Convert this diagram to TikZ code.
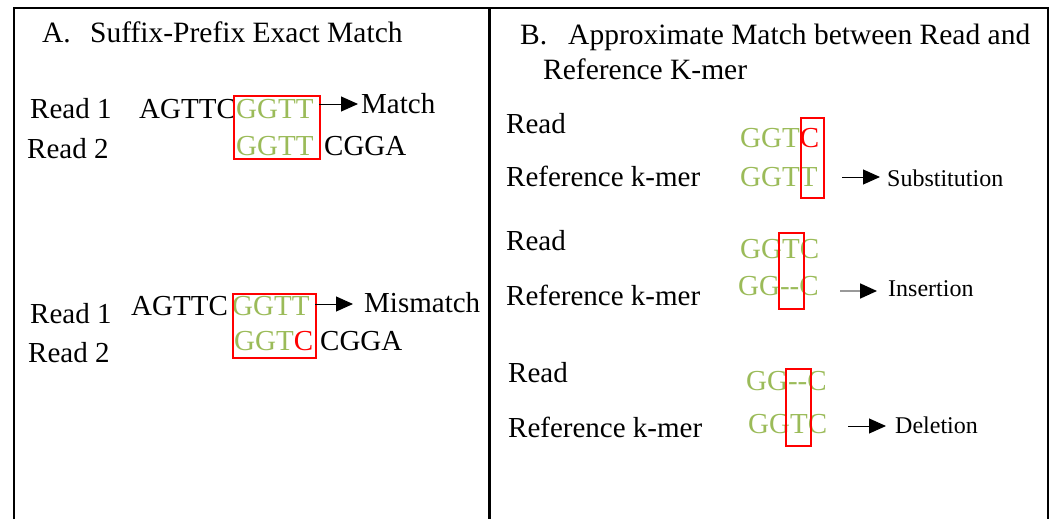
\documentclass[tikz,border=0pt]{standalone}
\usepackage{fontspec}
\setmainfont{Liberation Serif}
\usetikzlibrary{arrows.meta}
\definecolor{seqgreen}{HTML}{9BBB59}
\definecolor{seqred}{HTML}{FF0000}
\tikzset{
  txt/.style={anchor=base west, inner sep=0pt, font=\fontsize{29}{34}\selectfont},
  ttl/.style={anchor=base west, inner sep=0pt, font=\fontsize{29.5}{35}\selectfont},
  small/.style={anchor=base west, inner sep=0pt, font=\fontsize{24}{28}\selectfont},
  redbox/.style={draw=seqred, line width=2pt, anchor=north west, inner sep=0pt},
  arr/.style={-{Triangle[length=17pt,width=15pt,color=black]}, line width=1pt},
  frame/.style={line width=2pt},
}
\newcommand{\gr}[1]{\textcolor{seqgreen}{#1}}
\newcommand{\rd}[1]{\textcolor{seqred}{#1}}
\begin{document}
\begin{tikzpicture}[x=1pt,y=1pt]
\useasboundingbox (0,0) rectangle (1056,-519);
% frame
\coordinate (fbl) at (14,-519);
\coordinate (ftl) at (14,-8);
\coordinate (ftr) at (1048,-8);
\coordinate (fbr) at (1048,-519);
\coordinate (dtop) at (489,-8);
\coordinate (dbot) at (489,-519);
\draw[frame] (fbl) -- (ftl) -- (ftr) -- (fbr);
\draw[line width=3pt] (dtop) -- (dbot);

% Panel A title
\node[ttl] (atA) at (42,-43) {A.};
\node[ttl] (atitle) at (90,-43) {Suffix-Prefix Exact Match};

% exact match
\node[txt] (a1r1) at (30,-118) {Read 1};
\node[txt] (a1r2) at (27,-158) {Read 2};
\node[txt] (a1s1) at (139,-118) {AGTTC};
\node[txt] (a1g1) at (236,-118) {\gr{GGTT}};
\node[txt] (a1g2) at (236,-155) {\gr{GGTT}};
\node[txt] (a1s2) at (324,-155) {CGGA};
\node[txt] (a1m) at (361,-113) {Match};
\node[redbox, minimum width=86pt, minimum height=63pt] (a1box) at (233,-95) {};
\coordinate (a1a) at (319,-104);
\coordinate (a1b) at (358,-104);
\draw[arr] (a1a) -- (a1b);

% mismatch
\node[txt] (a2r1) at (30,-323) {Read 1};
\node[txt] (a2r2) at (28,-362) {Read 2};
\node[txt] (a2s1) at (131,-315) {AGTTC};
\node[txt] (a2g1) at (232,-315) {\gr{GGTT}};
\node[txt] (a2g2) at (234,-350) {\gr{GGT}\rd{C}};
\node[txt] (a2s2) at (320,-350) {CGGA};
\node[txt] (a2m) at (364,-312) {Mismatch};
\node[redbox, minimum width=83pt, minimum height=64pt] (a2box) at (232,-293) {};
\coordinate (a2a) at (315,-304);
\coordinate (a2b) at (353,-304);
\draw[arr] (a2a) -- (a2b);

% Panel B title
\node[ttl] (btB) at (520,-45) {B.};
\node[ttl] (btitle1) at (568,-45) {Approximate Match between Read and};
\node[ttl] (btitle2) at (543,-79) {Reference K-mer};

% substitution
\node[txt] (b1r) at (506,-133) {Read};
\node[txt] (b1k) at (506,-186) {Reference k-mer};
\node[txt] (b1s1) at (740,-147) {\gr{GGT}\rd{C}};
\node[txt] (b1s2) at (740,-186) {\gr{GGTT}};
\node[redbox, minimum width=23pt, minimum height=80pt] (b1box) at (800,-117) {};
\node[small] (b1l) at (887,-186) {Substitution};
\coordinate (b1a) at (842,-177);
\coordinate (b1b) at (880,-177);
\draw[arr] (b1a) -- (b1b);

% insertion
\node[txt] (b2r) at (506,-250) {Read};
\node[txt] (b2k) at (506,-305) {Reference k-mer};
\node[txt] (b2s1) at (740,-258) {\gr{GGTC}};
\node[txt] (b2s2) at (738,-295) {\gr{GG-{}-C}};
\node[redbox, minimum width=25pt, minimum height=76pt] (b2box) at (778,-232) {};
\node[small] (b2l) at (888,-296) {Insertion};
\coordinate (b2a) at (840,-291);
\coordinate (b2b) at (877,-291);
\draw[arr, draw=gray!80, line width=1.8pt] (b2a) -- (b2b);

% deletion
\node[txt] (b3r) at (508,-382) {Read};
\node[txt] (b3k) at (508,-437) {Reference k-mer};
\node[txt] (b3s1) at (746,-390) {\gr{GG-{}-C}};
\node[txt] (b3s2) at (748,-433) {\gr{GGTC}};
\node[redbox, minimum width=25pt, minimum height=77pt] (b3box) at (785,-368) {};
\node[small] (b3l) at (895,-433) {Deletion};
\coordinate (b3a) at (848,-426);
\coordinate (b3b) at (886,-426);
\draw[arr] (b3a) -- (b3b);
\end{tikzpicture}
\end{document}
